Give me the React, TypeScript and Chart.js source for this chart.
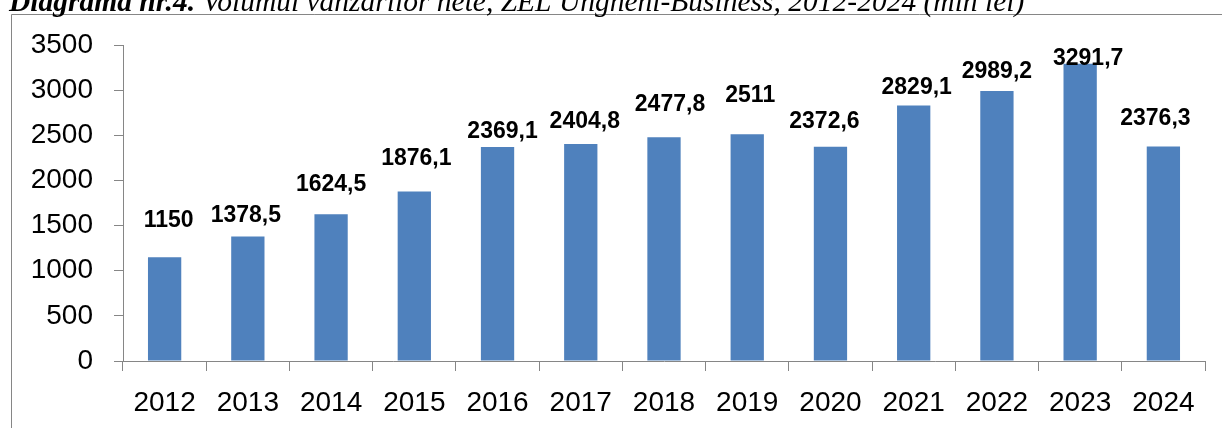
import React, { useEffect, useRef } from "react";
import { Chart, registerables } from "chart.js";

Chart.register(...registerables);

const years = ["2012", "2013", "2014", "2015", "2016", "2017", "2018", "2019", "2020", "2021", "2022", "2023", "2024"];
const sales = [1150, 1378.5, 1624.5, 1876.1, 2369.1, 2404.8, 2477.8, 2511, 2372.6, 2829.1, 2989.2, 3291.7, 2376.3];
const valueLabels = ["1150", "1378,5", "1624,5", "1876,1", "2369,1", "2404,8", "2477,8", "2511", "2372,6", "2829,1", "2989,2", "3291,7", "2376,3"];
// label nudges (style only): gap above bar top to text baseline, horizontal shift
const labelGap = [30, 15, 23, 27, 9, 16, 26, 32, 19, 12, 13, -1, 21];
const labelShift = [4, -2, 0, 2, 5, 4, 6, 3, -6, 3, 0, 8, -8];

const titleBold = "Diagrama nr.4.";
const titleRest = " Volumul vânzărilor nete, ZEL Ungheni-Business, 2012-2024 (mln lei)";

const AXIS = "#868686";
const FONT = "'Liberation Sans', Arial, sans-serif";

export default function App() {
  const ref = useRef<HTMLCanvasElement | null>(null);
  useEffect(() => {
    const canvas = ref.current;
    if (!canvas) return;
    const framePlugin = {
      id: "frame",
      beforeDraw(chart: any) {
        const ctx = chart.ctx;
        ctx.save();
        ctx.fillStyle = "#fff";
        ctx.fillRect(0, 0, chart.width, chart.height);
        ctx.strokeStyle = AXIS;
        ctx.lineWidth = 1;
        ctx.beginPath();
        ctx.moveTo(11.5, chart.height);
        ctx.lineTo(11.5, 14.5);
        ctx.lineTo(chart.width, 14.5);
        ctx.stroke();
        ctx.fillStyle = "#000";
        ctx.textBaseline = "alphabetic";
        ctx.textAlign = "left";
        ctx.font = "italic bold 29.5px 'Liberation Serif', 'Times New Roman', serif";
        ctx.fillText(titleBold, 9, 11);
        const w = ctx.measureText(titleBold).width;
        ctx.font = "italic 29.5px 'Liberation Serif', 'Times New Roman', serif";
        ctx.fillText(titleRest, 9 + w, 11);
        ctx.restore();
      },
    };
    const labelPlugin = {
      id: "valueLabels",
      afterDatasetsDraw(chart: any) {
        const ctx = chart.ctx;
        const meta = chart.getDatasetMeta(0);
        ctx.save();
        ctx.fillStyle = "#000";
        ctx.font = "bold 23px " + FONT;
        ctx.textAlign = "center";
        ctx.textBaseline = "alphabetic";
        meta.data.forEach((bar: any, i: number) => {
          ctx.fillText(valueLabels[i], bar.x + labelShift[i], bar.y - labelGap[i]);
        });
        ctx.restore();
      },
    };
    const chart = new Chart(canvas, {
      type: "bar",
      data: {
        labels: years,
        datasets: [
          {
            data: sales,
            backgroundColor: "#4F81BD",
            borderWidth: 0,
            categoryPercentage: 1,
            barPercentage: 0.4,
          },
        ],
      },
      options: {
        animation: false,
        responsive: false,
        maintainAspectRatio: false,
        layout: { padding: { top: 45, right: 17, left: 0, bottom: 0 } },
        plugins: { legend: { display: false }, tooltip: { enabled: false }, title: { display: false } },
        scales: {
          x: {
            offset: true,
            grid: { display: true, drawOnChartArea: false, offset: true, tickLength: 10, color: AXIS },
            border: { display: true, color: AXIS, width: 1 },
            ticks: { color: "#000", font: { family: FONT, size: 28 }, padding: 15, maxRotation: 0, autoSkip: false },
            afterFit: (s: any) => { s.height = 67; },
          },
          y: {
            min: 0,
            max: 3500,
            grid: { display: true, drawOnChartArea: false, tickLength: 9, color: AXIS },
            border: { display: true, color: AXIS, width: 1 },
            ticks: {
              stepSize: 500,
              color: "#000",
              font: { family: FONT, size: 28 },
              padding: 21,
              callback: (v: any) => String(v),
            },
            afterFit: (s: any) => { s.width = 123; },
          },
        },
      },
      plugins: [framePlugin, labelPlugin],
    });
    return () => chart.destroy();
  }, []);
  return (
    <div style={{ position: "fixed", left: 0, top: 0, width: 1222, height: 428, background: "#fff" }}>
      <canvas ref={ref} width={1222} height={428} style={{ display: "block", width: 1222, height: 428 }} />
    </div>
  );
}
